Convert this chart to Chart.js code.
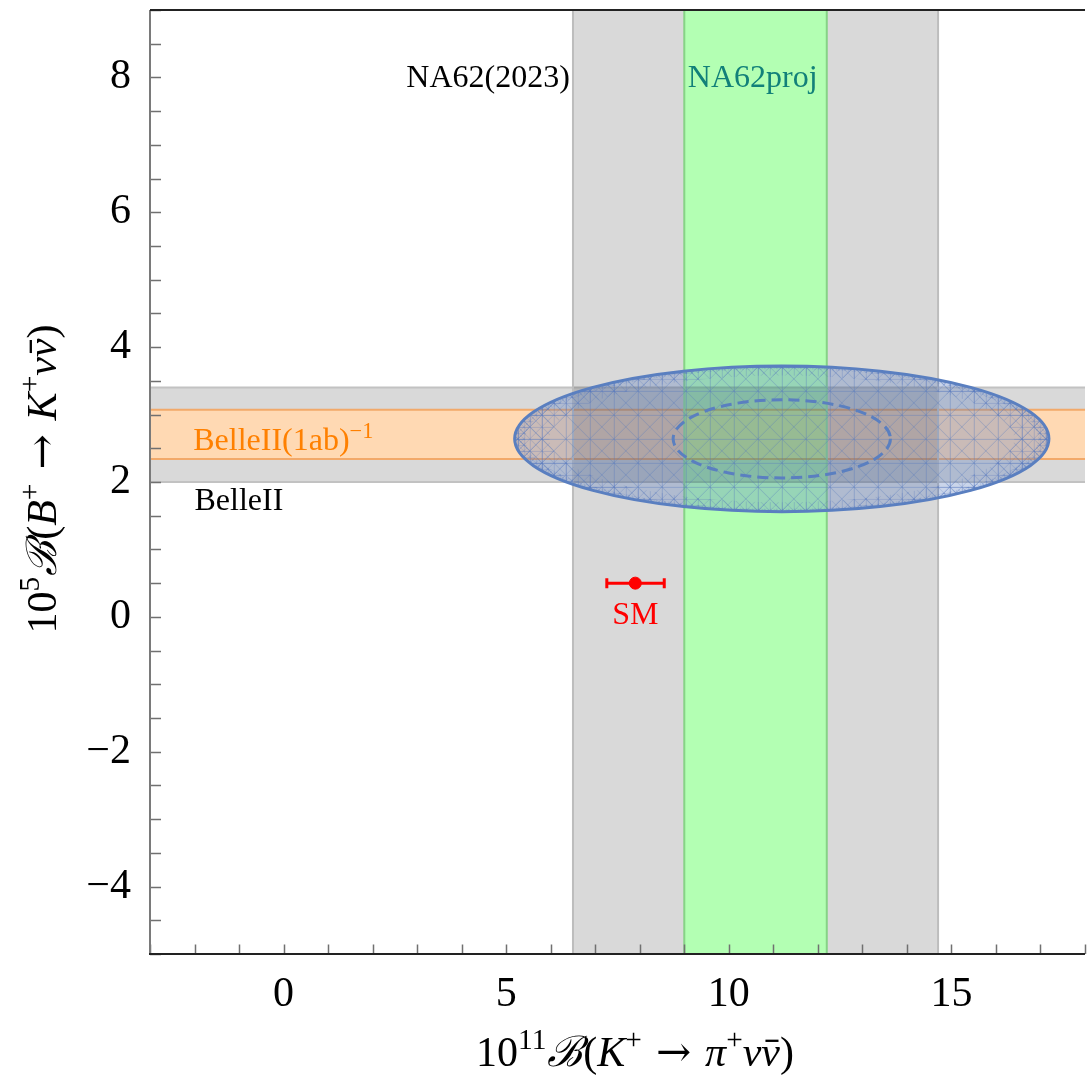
<!DOCTYPE html>
<html>
<head>
<meta charset="utf-8">
<script src="https://cdn.jsdelivr.net/npm/chart.js@4.4.0/dist/chart.umd.min.js"></script>
<style>
  html, body { margin: 0; padding: 0; background: #fff; overflow: hidden; }
</style>
</head>
<body>
<canvas id="chart" width="1092" height="1078"></canvas>
<script>
// axis ranges and tick labels
const xRange = [-3, 18];
const yRange = [-5, 9];
const xMajorTicks = [0, 5, 10, 15];
const yMajorTicks = [-4, -2, 0, 2, 4, 6, 8];

// experimental bands
const na62Band = [6.5, 14.7];
const na62ProjBand = [9.0, 12.2];
const belleBand = [2.0, 3.4];
const belle1abBand = [2.34, 3.07];

// fit ellipses: centre and half widths
const fitCenter = [11.19, 2.64];
const fitOuterRadii = [6.0, 1.08];
const fitInnerRadii = [2.44, 0.58];

// Standard Model point
const smX = [7.9];
const smY = [0.5];
const smXErr = [[7.26, 8.55]];

const SERIF = '"Liberation Serif", "Times New Roman", "DejaVu Serif", serif';

function fontFor(size, italic, family) {
  return (italic ? 'italic ' : '') + size + 'px ' + (family || SERIF);
}

// draws a list of text runs (supports superscripts, italics, overbar)
function drawRuns(ctx, runs, x, y, size, color, align) {
  const parts = runs.map(r => {
    const sz = r.sup ? size * 0.7 : size;
    ctx.font = fontFor(sz, r.italic, r.family);
    return { r, sz, w: ctx.measureText(r.t).width + (r.gap || 0) };
  });
  const total = parts.reduce((s, p) => s + p.w, 0);
  let cx = align === 'center' ? x - total / 2 : align === 'right' ? x - total : x;
  ctx.fillStyle = color;
  ctx.strokeStyle = color;
  ctx.textAlign = 'left';
  ctx.textBaseline = 'alphabetic';
  parts.forEach(p => {
    ctx.font = fontFor(p.sz, p.r.italic, p.r.family);
    const by = p.r.sup ? y - size * 0.4 : y;
    ctx.fillText(p.r.t, cx + (p.r.gap || 0) / 2, by);
    if (p.r.bar) {
      ctx.lineWidth = size * 0.055;
      ctx.beginPath();
      ctx.moveTo(cx + p.w * 0.22, by - size * 0.6);
      ctx.lineTo(cx + p.w * 0.92, by - size * 0.6);
      ctx.stroke();
    }
    cx += p.w;
  });
}

function makeMesh(cell, color) {
  const c = document.createElement('canvas');
  c.width = cell; c.height = cell;
  const g = c.getContext('2d');
  g.strokeStyle = color;
  g.lineWidth = 1;
  g.beginPath();
  g.moveTo(0, 0.5); g.lineTo(cell, 0.5);
  g.moveTo(0.5, 0); g.lineTo(0.5, cell);
  g.moveTo(0, 0); g.lineTo(cell, cell);
  g.moveTo(cell, 0); g.lineTo(0, cell);
  g.stroke();
  return c;
}

const ARROW = { t: '\u2192', family: '"DejaVu Serif", serif', gap: 28 };

const backgroundPlugin = {
  id: 'bands',
  beforeDatasetsDraw(chart) {
    const { ctx, chartArea: a, scales: { x, y } } = chart;
    ctx.save();
    ctx.beginPath();
    ctx.rect(a.left, a.top, a.right - a.left, a.bottom - a.top);
    ctx.clip();

    const hBand = (band, fill, edge) => {
      const y0 = y.getPixelForValue(band[1]);
      const y1 = y.getPixelForValue(band[0]);
      ctx.fillStyle = fill;
      ctx.fillRect(a.left, y0, a.right - a.left, y1 - y0);
      ctx.strokeStyle = edge;
      ctx.lineWidth = 2;
      ctx.beginPath();
      ctx.moveTo(a.left, y0); ctx.lineTo(a.right, y0);
      ctx.moveTo(a.left, y1); ctx.lineTo(a.right, y1);
      ctx.stroke();
    };
    hBand(belleBand, '#d9d9d9', '#c2c2c2');
    hBand(belle1abBand, '#ffd9b3', '#f2a96a');

    // vertical bands multiply over the horizontal ones
    const gx0 = x.getPixelForValue(na62Band[0]);
    const gx1 = x.getPixelForValue(na62Band[1]);
    const px0 = x.getPixelForValue(na62ProjBand[0]);
    const px1 = x.getPixelForValue(na62ProjBand[1]);
    ctx.globalCompositeOperation = 'multiply';
    ctx.fillStyle = '#d9d9d9';
    ctx.fillRect(gx0, a.top, px0 - gx0, a.bottom - a.top);
    ctx.fillRect(px1, a.top, gx1 - px1, a.bottom - a.top);
    ctx.fillStyle = '#b3ffb3';
    ctx.fillRect(px0, a.top, px1 - px0, a.bottom - a.top);
    ctx.globalCompositeOperation = 'source-over';
    ctx.lineWidth = 2;
    ctx.strokeStyle = '#bdbdbd';
    ctx.beginPath();
    ctx.moveTo(gx0, a.top); ctx.lineTo(gx0, a.bottom);
    ctx.moveTo(gx1, a.top); ctx.lineTo(gx1, a.bottom);
    ctx.stroke();
    ctx.strokeStyle = '#86d386';
    ctx.beginPath();
    ctx.moveTo(px0, a.top); ctx.lineTo(px0, a.bottom);
    ctx.moveTo(px1, a.top); ctx.lineTo(px1, a.bottom);
    ctx.stroke();

    // fit ellipse with mesh
    const cx = x.getPixelForValue(fitCenter[0]);
    const cy = y.getPixelForValue(fitCenter[1]);
    const rx = x.getPixelForValue(fitCenter[0] + fitOuterRadii[0]) - cx;
    const ry = cy - y.getPixelForValue(fitCenter[1] + fitOuterRadii[1]);
    const ell = (k) => ctx.ellipse(cx, cy, rx * k, ry * k, 0, 0, Math.PI * 2);

    ctx.beginPath(); ell(1);
    ctx.fillStyle = 'rgba(94,129,190,0.33)';
    ctx.fill();

    ctx.save();
    ctx.beginPath(); ell(1);
    ctx.clip();
    const m = new DOMMatrix([1, 0, 0, 1, cx, cy]);
    const p1 = ctx.createPattern(makeMesh(24, 'rgba(85,120,190,0.38)'), 'repeat');
    p1.setTransform(m);
    ctx.fillStyle = p1;
    ctx.fillRect(cx - rx, cy - ry, rx * 2, ry * 2);
    const p2 = ctx.createPattern(makeMesh(12, 'rgba(85,120,190,0.28)'), 'repeat');
    p2.setTransform(m);
    ctx.beginPath(); ell(1); ctx.moveTo(cx + rx * 0.87, cy); ell(0.87);
    ctx.fillStyle = p2;
    ctx.fill('evenodd');
    const p3 = ctx.createPattern(makeMesh(6, 'rgba(85,120,190,0.25)'), 'repeat');
    p3.setTransform(m);
    ctx.beginPath(); ell(1); ctx.moveTo(cx + rx * 0.96, cy); ell(0.96);
    ctx.fillStyle = p3;
    ctx.fill('evenodd');
    ctx.restore();

    ctx.beginPath(); ell(1);
    ctx.strokeStyle = '#5a7fc0';
    ctx.lineWidth = 3;
    ctx.stroke();

    const irx = x.getPixelForValue(fitCenter[0] + fitInnerRadii[0]) - cx;
    const iry = cy - y.getPixelForValue(fitCenter[1] + fitInnerRadii[1]);
    ctx.beginPath();
    ctx.ellipse(cx, cy, irx, iry, 0, 0, Math.PI * 2);
    ctx.setLineDash([11, 6]);
    ctx.lineWidth = 3;
    ctx.stroke();
    ctx.setLineDash([]);

    // SM error bar
    ctx.strokeStyle = '#ff0000';
    ctx.lineWidth = 3;
    smXErr.forEach((e, i) => {
      const ex0 = x.getPixelForValue(e[0]);
      const ex1 = x.getPixelForValue(e[1]);
      const ey = y.getPixelForValue(smY[i]);
      ctx.beginPath();
      ctx.moveTo(ex0, ey); ctx.lineTo(ex1, ey);
      ctx.moveTo(ex0, ey - 5); ctx.lineTo(ex0, ey + 5);
      ctx.moveTo(ex1, ey - 5); ctx.lineTo(ex1, ey + 5);
      ctx.stroke();
    });
    ctx.restore();
  },
  afterDatasetsDraw(chart) {
    const { ctx, scales: { x, y } } = chart;
    ctx.save();
    const px = v => x.getPixelForValue(v);
    const py = v => y.getPixelForValue(v);
    drawRuns(ctx, [{ t: 'NA62(2023)' }], px(6.43), py(7.86), 32, '#000', 'right');
    drawRuns(ctx, [{ t: 'NA62proj' }], px(9.08), py(7.86), 32, '#128079', 'left');
    drawRuns(ctx, [{ t: 'BelleII(1ab)' }, { t: '\u22121', sup: true }], px(-2.03), py(2.47), 32, '#ff8000', 'left');
    drawRuns(ctx, [{ t: 'BelleII' }], px(-2.0), py(1.59), 32, '#000', 'left');
    drawRuns(ctx, [{ t: 'SM' }], px(smX[0]), py(-0.11), 32, '#ff0000', 'center');
    ctx.restore();
  },
  afterDraw(chart) {
    const { ctx, chartArea: a, scales: { x, y } } = chart;
    ctx.save();
    // ticks pointing inwards
    ctx.strokeStyle = '#707070';
    ctx.lineWidth = 1.5;
    ctx.beginPath();
    x.ticks.forEach(t => {
      const p = Math.round(x.getPixelForValue(t.value)) + 0.5;
      ctx.moveTo(p, a.bottom); ctx.lineTo(p, a.bottom - 9.5);
    });
    y.ticks.forEach(t => {
      const p = Math.round(y.getPixelForValue(t.value)) + 0.5;
      ctx.moveTo(a.left, p); ctx.lineTo(a.left + 11, p);
    });
    ctx.stroke();
    // frame
    ctx.lineWidth = 2;
    ctx.strokeStyle = '#7a7a7a';
    ctx.beginPath();
    ctx.moveTo(a.left, a.top); ctx.lineTo(a.left, a.bottom);
    ctx.stroke();
    ctx.strokeStyle = '#222';
    ctx.beginPath();
    ctx.moveTo(a.left, a.top); ctx.lineTo(a.right, a.top);
    ctx.moveTo(a.left - 1, a.bottom); ctx.lineTo(a.right, a.bottom);
    ctx.stroke();

    // axis titles
    drawRuns(ctx, [
      { t: '10' }, { t: '11', sup: true }, { t: '\u212C', italic: true, gap: 2 }, { t: '(' },
      { t: 'K', italic: true }, { t: '+', sup: true }, ARROW,
      { t: '\u03C0', italic: true }, { t: '+', sup: true }, { t: '\u03BD', italic: true },
      { t: '\u03BD', italic: true, bar: true }, { t: ')' }
    ], 635, 1066, 42, '#000', 'center');

    ctx.translate(56, 479);
    ctx.rotate(-Math.PI / 2);
    drawRuns(ctx, [
      { t: '10' }, { t: '5', sup: true }, { t: '\u212C', italic: true, gap: 2 }, { t: '(' },
      { t: 'B', italic: true }, { t: '+', sup: true }, ARROW,
      { t: 'K', italic: true }, { t: '+', sup: true }, { t: '\u03BD', italic: true },
      { t: '\u03BD', italic: true, bar: true }, { t: ')' }
    ], 0, 0, 42, '#000', 'center');
    ctx.restore();
  }
};

const tickFont = { family: SERIF, size: 42 };

new Chart(document.getElementById('chart'), {
  type: 'scatter',
  data: {
    datasets: [{
      label: 'SM',
      data: smX.map((v, i) => ({ x: v, y: smY[i] })),
      backgroundColor: '#ff0000',
      borderColor: '#ff0000',
      pointRadius: 6,
      pointHoverRadius: 6
    }]
  },
  options: {
    responsive: false,
    animation: false,
    devicePixelRatio: 1,
    layout: { padding: { left: 0, top: 10, right: 3, bottom: 0 } },
    plugins: { legend: { display: false }, tooltip: { enabled: false } },
    scales: {
      x: {
        type: 'linear',
        min: xRange[0],
        max: xRange[1],
        grid: { display: false },
        border: { display: false },
        ticks: {
          stepSize: 1,
          autoSkip: false,
          maxRotation: 0,
          padding: 8,
          color: '#000',
          font: tickFont,
          callback: v => xMajorTicks.includes(v) ? String(v) : ''
        },
        afterFit(s) { s.height = 124; s.paddingLeft = 0; s.paddingRight = 0; }
      },
      y: {
        type: 'linear',
        min: yRange[0],
        max: yRange[1],
        grid: { display: false },
        border: { display: false },
        ticks: {
          stepSize: 0.5,
          autoSkip: false,
          padding: 11,
          color: '#000',
          font: tickFont,
          callback: v => yMajorTicks.includes(v) ? (v < 0 ? '\u2212' + Math.abs(v) : String(v)) : ''
        },
        afterFit(s) { s.width = 150; s.paddingTop = 0; s.paddingBottom = 0; }
      }
    }
  },
  plugins: [backgroundPlugin]
});
</script>
</body>
</html>
